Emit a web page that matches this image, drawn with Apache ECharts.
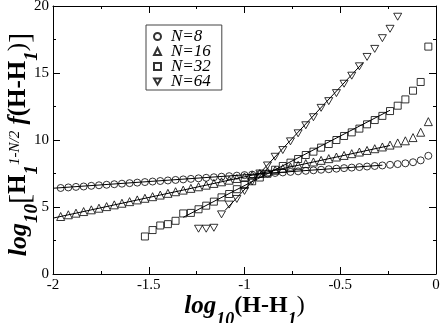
<!DOCTYPE html>
<html>
<head>
<meta charset="utf-8">
<script src="https://cdn.jsdelivr.net/npm/echarts@6/dist/echarts.min.js"></script>
<style>
html, body { margin: 0; padding: 0; background: #fff; }
#chart { width: 441px; height: 323px; }
</style>
</head>
<body>
<div id="chart"></div>
<script>
// log10(H-H1) grid
var xsSmall = [-1.96, -1.92, -1.88, -1.84, -1.80, -1.76, -1.72, -1.68, -1.64, -1.60,
  -1.56, -1.52, -1.48, -1.44, -1.40, -1.36, -1.32, -1.28, -1.24, -1.20,
  -1.16, -1.12, -1.08, -1.04, -1.00, -0.96, -0.92, -0.88, -0.84, -0.80,
  -0.76, -0.72, -0.68, -0.64, -0.60, -0.56, -0.52, -0.48, -0.44, -0.40,
  -0.36, -0.32, -0.28, -0.24, -0.20, -0.16, -0.12, -0.08, -0.04];
var yN8 = [6.42, 6.46, 6.50, 6.53, 6.58, 6.62, 6.66, 6.70, 6.74, 6.78,
  6.82, 6.86, 6.90, 6.94, 6.98, 7.02, 7.06, 7.10, 7.14, 7.18,
  7.22, 7.26, 7.30, 7.34, 7.38, 7.42, 7.46, 7.50, 7.54, 7.58,
  7.62, 7.66, 7.70, 7.74, 7.78, 7.82, 7.86, 7.90, 7.94, 7.98,
  8.02, 8.06, 8.10, 8.15, 8.20, 8.26, 8.34, 8.48, 8.82];
var yN16 = [4.29, 4.42, 4.54, 4.66, 4.79, 4.91, 5.03, 5.16, 5.28, 5.40,
  5.53, 5.65, 5.77, 5.89, 6.02, 6.14, 6.26, 6.39, 6.51, 6.63,
  6.76, 6.88, 7.00, 7.13, 7.25, 7.37, 7.50, 7.62, 7.74, 7.87,
  7.99, 8.11, 8.24, 8.36, 8.48, 8.61, 8.73, 8.85, 8.98, 9.10,
  9.22, 9.35, 9.48, 9.62, 9.78, 9.94, 10.18, 10.58, 11.37];
var xsN32 = [-1.52, -1.48, -1.44, -1.40, -1.36, -1.32, -1.28, -1.24, -1.20, -1.16,
  -1.12, -1.08, -1.04, -1.00, -0.96, -0.92, -0.88, -0.84, -0.80, -0.76,
  -0.72, -0.68, -0.64, -0.60, -0.56, -0.52, -0.48, -0.44, -0.40, -0.36,
  -0.32, -0.28, -0.24, -0.20, -0.16, -0.12, -0.08, -0.04];
var yN32 = [2.80, 3.28, 3.62, 3.72, 3.97, 4.52, 4.56, 4.83, 5.10, 5.40,
  5.72, 5.97, 6.33, 6.64, 6.92, 7.20, 7.48, 7.78, 8.06, 8.31,
  8.58, 8.88, 9.13, 9.43, 9.70, 10.00, 10.30, 10.57, 10.85, 11.17,
  11.49, 11.80, 12.16, 12.56, 13.03, 13.68, 14.33, 16.97];
var xsN64 = [-1.24, -1.20, -1.16, -1.12, -1.08, -1.04, -1.00, -0.96, -0.92, -0.88,
  -0.84, -0.80, -0.76, -0.72, -0.68, -0.64, -0.60, -0.56, -0.52, -0.48,
  -0.44, -0.40, -0.36, -0.32, -0.28, -0.24, -0.20];
var yN64 = [3.38, 3.38, 3.45, 4.45, 5.18, 5.60, 6.20, 6.90, 7.50, 8.10,
  8.75, 9.25, 9.90, 10.50, 11.10, 11.70, 12.40, 12.90, 13.50, 14.20,
  14.80, 15.50, 16.20, 16.80, 17.60, 18.30, 19.20];

// straight-line fits (end points)
var fitN8 = [[-2.00, 6.40], [-0.28, 8.12]];
var fitN16 = [[-2.00, 4.17], [-0.24, 9.59]];
var fitN32 = [[-1.32, 4.23], [-0.24, 12.22]];
var fitN64 = [[-1.10, 4.77], [-0.38, 15.79]];

var seriesNames = ['N=8', 'N=16', 'N=32', 'N=64'];

var serif = 'Liberation Serif';
var downTri = 'path://M0,0L10,0L5,8.7Z';
var chart = echarts.init(document.getElementById('chart'));

function pairs(xs, ys) {
  return xs.map(function (x, i) { return [x, ys[i]]; });
}

function scatter(name, xs, ys, symbol, size) {
  return {
    name: name,
    type: 'scatter',
    data: pairs(xs, ys),
    symbol: symbol,
    symbolSize: size,
    symbolKeepAspect: true,
    itemStyle: { color: 'rgba(0,0,0,0)', borderColor: '#000', borderWidth: 1 },
    emphasis: { disabled: true },
    z: 3
  };
}

function fit(pts) {
  return {
    type: 'line',
    data: pts,
    symbol: 'none',
    showSymbol: false,
    lineStyle: { color: '#000', width: 1 },
    silent: true,
    z: 4
  };
}

function frameAxis(pos, min, max, interval, labels) {
  return {
    type: 'value',
    position: pos,
    min: min,
    max: max,
    interval: interval,
    axisLine: { onZero: false, lineStyle: { color: '#000', width: 1 } },
    axisTick: { inside: true, length: 7, lineStyle: { color: '#000' } },
    minorTick: { show: true, splitNumber: 2, length: 3, lineStyle: { color: '#000' } },
    splitLine: { show: false },
    axisLabel: { show: labels, color: '#000', fontFamily: serif, fontSize: 15, margin: 4 }
  };
}

var bi = { fontFamily: serif, fontWeight: 'bold', fontStyle: 'italic', color: '#000', verticalAlign: 'top' };
function rs(extra) {
  var o = {};
  for (var k in bi) o[k] = bi[k];
  for (var j in extra) o[j] = extra[j];
  return o;
}
// subscripts dropped with top padding, superscript raised
function titleRich(big, sub) {
  return {
    lg: rs({ fontSize: big + 1, lineHeight: 30 }),
    sb: rs({ fontSize: sub, lineHeight: 14, padding: [17, 0, 0, 0] }),
    sp: rs({ fontSize: sub - 4, fontWeight: 'normal', lineHeight: 14, padding: [2, 0, 0, 0] }),
    p: rs({ fontSize: big, fontStyle: 'normal', lineHeight: 30 }),
    f: rs({ fontSize: big, lineHeight: 30 }),
    q: rs({ fontSize: big, fontStyle: 'normal', fontWeight: 'normal', lineHeight: 30 }),
    br: rs({ fontSize: big + 5, fontStyle: 'normal', fontWeight: 'normal', lineHeight: 30 })
  };
}

var xMain = frameAxis('bottom', -2, 0, 0.5, true);
xMain.name = '{lg|log}{sb|10}{p|(H-H}{sb|1}{q|)}';
xMain.nameLocation = 'middle';
xMain.nameGap = 20;
xMain.nameMoveOverlap = false;
xMain.nameTextStyle = { rich: titleRich(24, 18) };

var yMain = frameAxis('left', 0, 20, 5, true);
yMain.name = '{lg|log}{sb|10}{br|[}{p|H}{sb|1}{sp|1-N/2}{f| f}{p|(H-H}{sb|1}{q|)}{br|]}';
yMain.nameLocation = 'middle';
yMain.nameRotate = 90;
yMain.nameGap = 17;
yMain.nameMoveOverlap = false;
yMain.nameTextStyle = { rich: titleRich(25, 19), padding: [0, 9, 0, 0] };

var option = {
  animation: false,
  backgroundColor: '#fff',
  grid: { left: 53, right: 5, top: 6, bottom: 49, outerBoundsMode: 'none' },
  legend: {
    data: seriesNames,
    orient: 'vertical',
    left: 146,
    top: 25,
    padding: [3, 11, 0, 7],
    itemWidth: 7,
    itemHeight: 7,
    itemGap: -2,
    borderColor: '#444',
    borderWidth: 1,
    textStyle: { fontFamily: serif, fontStyle: 'italic', fontSize: 17, padding: [0, 0, 0, 5], color: '#000' }
  },
  xAxis: [xMain, frameAxis('top', -2, 0, 0.5, false)],
  yAxis: [yMain, frameAxis('right', 0, 20, 5, false)],
  series: [
    scatter(seriesNames[0], xsSmall, yN8, 'circle', 7),
    scatter(seriesNames[1], xsSmall, yN16, 'triangle', 8),
    scatter(seriesNames[2], xsN32, yN32, 'rect', 7),
    scatter(seriesNames[3], xsN64, yN64, downTri, 8),
    fit(fitN8),
    fit(fitN16),
    fit(fitN32),
    fit(fitN64)
  ]
};
chart.setOption(option);
</script>
</body>
</html>
